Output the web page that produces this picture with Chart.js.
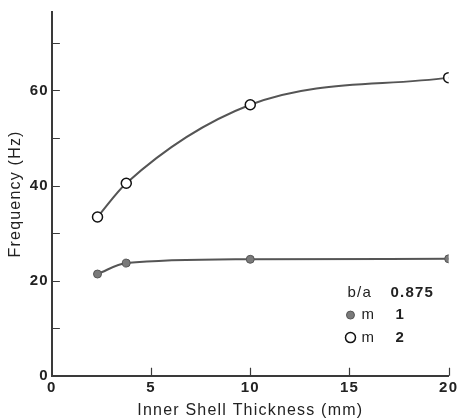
<!DOCTYPE html>
<html>
<head>
<meta charset="utf-8">
<script src="https://cdn.jsdelivr.net/npm/chart.js@4/dist/chart.umd.min.js"></script>
<style>
  html, body { margin: 0; padding: 0; background: #fff; }
  #wrap { width: 460px; height: 420px; position: relative; }
</style>
</head>
<body>
<div id="wrap"><canvas id="freq-chart"></canvas></div>
<script>
// values
var thickness = [2.3, 3.75, 10, 20];       // inner shell thickness (mm)
var freqM1 = [21.4, 23.7, 24.5, 24.6];      // m = 1 (filled)
var freqM2 = [33.4, 40.5, 57.0, 62.7];      // m = 2 (open)
var xTicks = [0, 5, 10, 15, 20];
var yLabelled = [0, 20, 40, 60];
var ratioLabel = "b/a";
var ratioValue = "0.875";

var INK = "#3a3a3a";
var TEXT_FONT = "'Liberation Sans', Arial, sans-serif";
var TICK_FONT = { family: TEXT_FONT, size: 15, weight: "bold" };

function pts(ys) {
  return thickness.map(function (x, i) { return { x: x, y: ys[i] }; });
}

/* the scanned figure uses widely spaced lettering */
var spacing = {
  id: "spacing",
  beforeDraw: function (chart) {
    chart.ctx.letterSpacing = "1.2px";
  }
};

/* inward tick marks, drawn from the scales' own tick lists */
var innerTicks = {
  id: "innerTicks",
  afterDraw: function (chart) {
    var ctx = chart.ctx, xs = chart.scales.x, ys = chart.scales.y;
    var len = 8;
    ctx.save();
    ctx.strokeStyle = INK;
    ctx.lineWidth = 1.2;
    ctx.beginPath();
    ys.ticks.forEach(function (t) {
      if (t.value === 0 || t.value % 10 !== 0) return;
      var py = Math.round(ys.getPixelForValue(t.value)) + 0.5;
      ctx.moveTo(xs.left, py);
      ctx.lineTo(xs.left + len, py);
    });
    xTicks.forEach(function (v) {
      if (v === 0) return;
      var px = Math.round(xs.getPixelForValue(v)) + 0.5;
      ctx.moveTo(px, ys.bottom);
      ctx.lineTo(px, ys.bottom - len);
    });
    ctx.stroke();
    ctx.restore();
  }
};

/* key box in the lower right: b/a 0.875, m 1, m 2 */
var keyBox = {
  id: "keyBox",
  afterDraw: function (chart) {
    var ctx = chart.ctx, xs = chart.scales.x, ys = chart.scales.y;
    var x0 = xs.getPixelForValue(14.9);
    var y0 = ys.getPixelForValue(17.5);
    var rowH = 22.5;
    var ds = chart.data.datasets;
    ctx.save();
    ctx.fillStyle = "#222";
    ctx.textBaseline = "middle";
    ctx.font = "15px " + TEXT_FONT;
    ctx.fillText(ratioLabel, x0, y0);
    ctx.font = "bold 15px " + TEXT_FONT;
    ctx.fillText(ratioValue, x0 + 43, y0);

    for (var i = 0; i < ds.length; i++) {
      var yy = y0 + rowH * (i + 1);
      ctx.beginPath();
      ctx.arc(x0 + 3, yy, ds[i].pointRadius, 0, Math.PI * 2);
      ctx.fillStyle = ds[i].pointBackgroundColor;
      ctx.fill();
      ctx.lineWidth = ds[i].pointBorderWidth;
      ctx.strokeStyle = ds[i].pointBorderColor;
      ctx.stroke();
      var parts = ds[i].label.split(" ");
      ctx.fillStyle = "#222";
      ctx.font = "15px " + TEXT_FONT;
      ctx.fillText(parts[0], x0 + 14, yy);
      ctx.font = "bold 15px " + TEXT_FONT;
      ctx.fillText(parts[1], x0 + 48, yy);
    }
    ctx.restore();
  }
};

var ctx = document.getElementById("freq-chart").getContext("2d");
new Chart(ctx, {
  type: "line",
  data: {
    datasets: [
      {
        label: "m 1",
        data: pts(freqM1),
        borderColor: "#555",
        borderWidth: 2,
        pointRadius: 4,
        pointBackgroundColor: "#7a7a7a",
        pointBorderColor: "#555",
        pointBorderWidth: 1,
        cubicInterpolationMode: "monotone",
        fill: false
      },
      {
        label: "m 2",
        data: pts(freqM2),
        borderColor: "#555",
        borderWidth: 2,
        pointRadius: 5,
        pointBackgroundColor: "#fff",
        pointBorderColor: "#111",
        pointBorderWidth: 1.5,
        cubicInterpolationMode: "monotone",
        fill: false
      }
    ]
  },
  options: {
    responsive: true,
    maintainAspectRatio: false,
    animation: false,
    layout: { padding: { top: 0, right: 8, left: 6, bottom: 0 } },
    plugins: {
      legend: { display: false },
      tooltip: { enabled: false }
    },
    scales: {
      x: {
        type: "linear",
        min: 0,
        max: 20,
        afterBuildTicks: function (s) {
          s.ticks = xTicks.map(function (v) { return { value: v }; });
        },
        grid: { display: true, drawOnChartArea: false, drawTicks: false },
        border: { display: true, color: INK, width: 2 },
        ticks: { color: "#222", font: TICK_FONT, padding: 3, maxRotation: 0 },
        title: {
          display: true,
          text: "Inner Shell Thickness (mm)",
          color: "#222",
          font: { family: TEXT_FONT, size: 16 },
          padding: { top: 1, bottom: 0 }
        }
      },
      y: {
        type: "linear",
        min: 0,
        max: 76.5,
        ticks: {
          stepSize: 10,
          color: "#222",
          font: TICK_FONT,
          padding: 3,
          callback: function (v) {
            return yLabelled.indexOf(v) >= 0 ? v : "";
          }
        },
        grid: { display: true, drawOnChartArea: false, drawTicks: false },
        border: { display: true, color: INK, width: 2 },
        title: {
          display: true,
          text: "Frequency (Hz)",
          color: "#222",
          font: { family: TEXT_FONT, size: 16 },
          padding: { top: 0, bottom: 4 }
        }
      }
    }
  },
  plugins: [spacing, innerTicks, keyBox]
});
</script>
</body>
</html>
